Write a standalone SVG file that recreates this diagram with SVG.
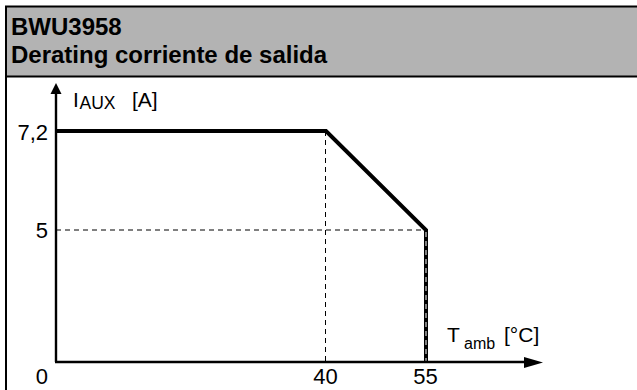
<svg xmlns="http://www.w3.org/2000/svg" width="637" height="390" viewBox="0 0 637 390">
<style>
text{font-family:"Liberation Sans",Arial,sans-serif;fill:#000}
.hdr{font-size:24px;font-weight:bold}
.lbl{font-size:21px}
.num{font-size:22px}
.sub{font-size:16px}
.axis{stroke:#000;stroke-width:2.4;fill:none}
.dash{stroke:#000;stroke-width:1;stroke-dasharray:5,4;fill:none}
.curve{stroke:#000;stroke-width:4;fill:none;stroke-linejoin:miter}
</style>
<rect x="0" y="0" width="637" height="390" fill="#fff"/>
<g id="frame">
<rect x="6" y="6.5" width="640" height="70" fill="#b3b3b3"/>
<rect x="6" y="6.5" width="640" height="400" fill="none" stroke="#000" stroke-width="2"/>
<line x1="6" y1="76.5" x2="637" y2="76.5" stroke="#000" stroke-width="2"/>
<text class="hdr" x="11" y="35">BWU3958</text>
<text class="hdr" x="11" y="63">Derating corriente de salida</text>
</g>
<g id="connectors">
<line class="dash" x1="325.5" y1="131" x2="325.5" y2="362"/>
<line class="dash" x1="56" y1="230" x2="426" y2="230"/>
<polyline class="curve" points="56,131 326,131 426,230 426,362"/>
<line x1="426" y1="232" x2="426" y2="361" stroke="#fff" stroke-width="1" stroke-dasharray="5,4"/>
<line class="axis" x1="56" y1="362" x2="56" y2="92"/>
<line class="axis" x1="55" y1="362" x2="526" y2="362"/>
<polygon points="56,83 50.5,94 61.5,94" fill="#000"/>
<polygon points="543,362.5 524,357 524,368" fill="#000"/>
</g>
<g id="y-axis-label">
<text class="lbl" x="73" y="106.5">I</text>
<text class="sub" x="79.5" y="109" style="font-size:17.5px">AUX</text>
<text class="lbl" x="132" y="106.5">[A]</text>
</g>
<g id="x-axis-label">
<text class="lbl" x="447" y="342">T</text>
<text class="sub" x="464" y="349">amb</text>
<text class="lbl" x="504" y="342">[°C]</text>
</g>
<g id="ticks">
<text class="num" x="48" y="139.5" text-anchor="end">7,2</text>
<text class="num" x="48" y="238" text-anchor="end">5</text>
<text class="num" x="48" y="384" text-anchor="end">0</text>
<text class="num" x="325.5" y="384" text-anchor="middle">40</text>
<text class="num" x="425.5" y="384" text-anchor="middle">55</text>
</g>
</svg>
